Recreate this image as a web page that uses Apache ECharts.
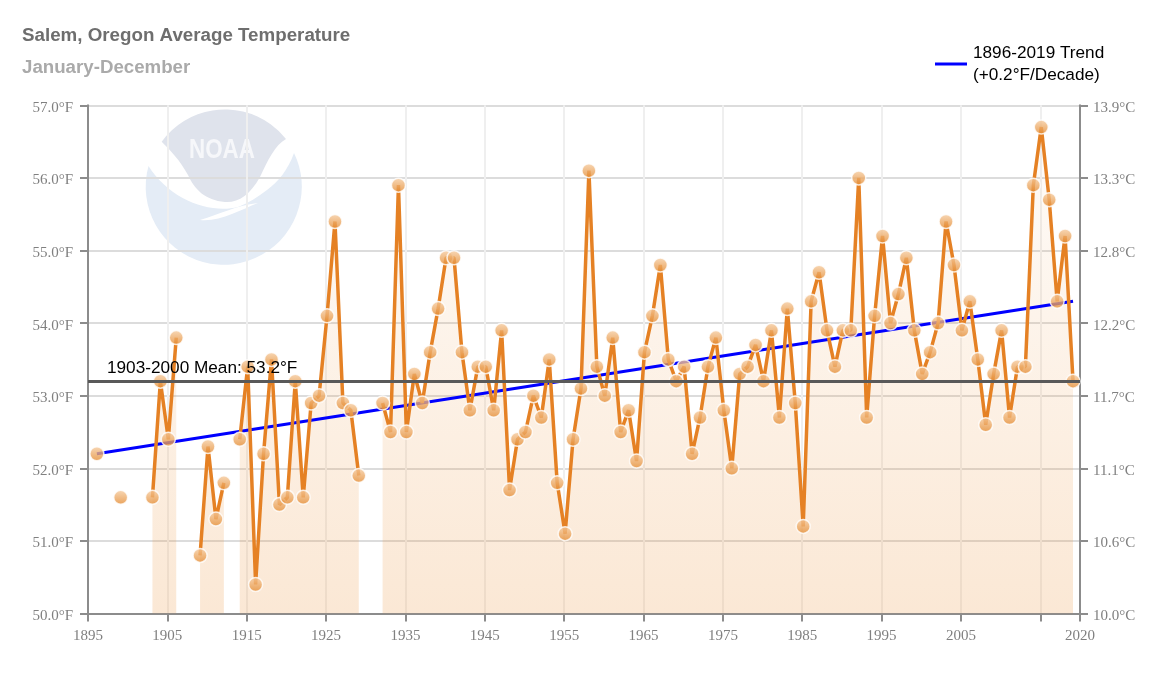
<!DOCTYPE html>
<html>
<head>
<meta charset="utf-8">
<script src="https://cdn.jsdelivr.net/npm/echarts@6/dist/echarts.min.js"></script>
<style>
    html, body { margin: 0; padding: 0; background: #fff; }
    #chart { width: 1163px; height: 678px; }
</style>
</head>
<body>
<div id="chart"></div>
<script>
    // values, null = year with no data
    var startYear = 1896;
    var temps = [
        52.2, null, null, 51.6, null, null, null, 51.6, 53.2, 52.4,   // 1896-1905
        53.8, null, null, 50.8, 52.3, 51.3, 51.8, null, 52.4, 53.4,   // 1906-1915
        50.4, 52.2, 53.5, 51.5, 51.6, 53.2, 51.6, 52.9, 53.0, 54.1,   // 1916-1925
        55.4, 52.9, 52.8, 51.9, null, null, 52.9, 52.5, 55.9, 52.5,   // 1926-1935
        53.3, 52.9, 53.6, 54.2, 54.9, 54.9, 53.6, 52.8, 53.4, 53.4,   // 1936-1945
        52.8, 53.9, 51.7, 52.4, 52.5, 53.0, 52.7, 53.5, 51.8, 51.1,   // 1946-1955
        52.4, 53.1, 56.1, 53.4, 53.0, 53.8, 52.5, 52.8, 52.1, 53.6,   // 1956-1965
        54.1, 54.8, 53.5, 53.2, 53.4, 52.2, 52.7, 53.4, 53.8, 52.8,   // 1966-1975
        52.0, 53.3, 53.4, 53.7, 53.2, 53.9, 52.7, 54.2, 52.9, 51.2,   // 1976-1985
        54.3, 54.7, 53.9, 53.4, 53.9, 53.9, 56.0, 52.7, 54.1, 55.2,   // 1986-1995
        54.0, 54.4, 54.9, 53.9, 53.3, 53.6, 54.0, 55.4, 54.8, 53.9,   // 1996-2005
        54.3, 53.5, 52.6, 53.3, 53.9, 52.7, 53.4, 53.4, 55.9, 56.7,   // 2006-2015
        55.7, 54.3, 55.2, 53.2                                        // 2016-2019
    ];
    var trendYears = [1896, 2019];
    var trendValues = [52.2, 54.3];
    var meanValue = 53.2;
    var titleText = 'Salem, Oregon Average Temperature';
    var subtitleText = 'January-December';
    var trendName = '1896-2019 Trend\n(+0.2°F/Decade)';
    var meanLabel = '1903-2000 Mean: 53.2°F';
    // the source plots each year just after its tick
    var yearShift = 0.12;

    var yearData = temps.map(function (v, i) { return [startYear + i + yearShift, v]; });
    var pointData = yearData.filter(function (d) { return d[1] !== null; });
    var trendData = trendYears.map(function (y, i) { return [y + yearShift, trendValues[i]]; });

    var serifFont = '"Liberation Serif"';
    var axisGrey = { color: '#8c8c8c', width: 2 };

    // graphic has no plain path type, so register the logo shapes
    echarts.graphic.registerShape('noaaLower', echarts.graphic.extendPath(
        'M148.5 166 A78 78 0 1 0 294 153 C288 170 278 182 267 190 C258 197 248 203 238 207 C210 214 170 200 148.5 166 Z', {}));
    echarts.graphic.registerShape('noaaUpper', echarts.graphic.extendPath(
        'M161.7 141.7 A78 78 0 0 1 286 139 C275 145 268 160 260 177 C250 195 238 203 225 202 C205 200 195 190 188 175 C180 160 170 150 161.7 141.7 Z', {}));
    echarts.graphic.registerShape('noaaSliver', echarts.graphic.extendPath(
        'M200 220 C220 214 235 206 258 203 C240 210 220 222 200 220 Z', {}));

    var chart = echarts.init(document.getElementById('chart'), null, { renderer: 'canvas' });

    // NOAA watermark behind the plot
    var logo = [
        { type: 'noaaLower', z: -10, silent: true, style: { fill: '#e4ecf6' } },
        { type: 'noaaUpper', z: -10, silent: true, style: { fill: '#dfe3ec' } },
        { type: 'noaaSliver', z: -9, silent: true, style: { fill: '#ffffff' } },
        { type: 'text', z: -9, silent: true, x: 222, y: 150, scaleX: 0.8, style: { text: 'NOAA', fontFamily: '"Liberation Sans"', fontWeight: 'bold', fontSize: 28, fill: '#f6f7fa', align: 'center', verticalAlign: 'middle' } }
    ];

    var option = {
        animation: false,
        backgroundColor: '#fff',
        title: [
            { text: titleText, left: 22, top: 26, padding: 0, textStyle: { fontFamily: '"Liberation Sans"', fontSize: 18.75, fontWeight: 'bold', color: '#6e6e6e' } },
            { text: subtitleText, left: 22, top: 58, padding: 0, textStyle: { fontFamily: '"Liberation Sans"', fontSize: 18.7, fontWeight: 'bold', color: '#aaaaaa' } }
        ],
        legend: {
            data: [{ name: trendName, icon: 'rect' }],
            left: 935,
            top: 41,
            padding: 0,
            itemWidth: 32,
            itemHeight: 3,
            itemGap: 0,
            textStyle: { fontFamily: '"Liberation Sans"', fontSize: 17.2, color: '#000', lineHeight: 22, padding: [2, 0, 0, 1] }
        },
        grid: { left: 88, right: 83, top: 105.3, bottom: 64.5 },
        graphic: { elements: logo },
        xAxis: {
            type: 'value',
            min: 1895,
            max: 2020,
            interval: 10,
            axisLine: { lineStyle: axisGrey },
            axisTick: { show: true, length: 8, lineStyle: axisGrey },
            axisLabel: {
                fontFamily: serifFont, fontSize: 15, color: '#808080', margin: 15,
                hideOverlap: false,
                formatter: function (v) { return v === 2015 ? '' : String(v); }
            },
            splitLine: { show: true, lineStyle: { color: '#efefef', width: 2 } }
        },
        yAxis: [
            {
                type: 'value', min: 50, max: 57, interval: 1, position: 'left',
                axisLine: { show: true, lineStyle: axisGrey },
                axisTick: { show: true, length: 8, lineStyle: axisGrey },
                axisLabel: {
                    fontFamily: serifFont, fontSize: 15, color: '#808080', margin: 15,
                    verticalAlign: 'top', lineHeight: 5,   // labels sit a little under their tick
                    formatter: function (v) { return v.toFixed(1) + '°F'; }
                },
                splitLine: { show: true, lineStyle: { color: '#dcdcdc', width: 2 } }
            },
            {
                type: 'value', min: 50, max: 57, interval: 1, position: 'right',
                axisLine: { show: true, lineStyle: axisGrey },
                axisTick: { show: true, length: 8, lineStyle: axisGrey },
                axisLabel: {
                    fontFamily: serifFont, fontSize: 15, color: '#808080', margin: 13,
                    verticalAlign: 'top', lineHeight: 5,
                    formatter: function (v) { return ((v - 32) * 5 / 9).toFixed(1) + '°C'; }
                },
                splitLine: { show: false }
            }
        ],
        series: [
            {
                type: 'line',
                name: 'Area',
                data: yearData,
                connectNulls: false,
                symbol: 'none',
                z: 1,
                lineStyle: { width: 0, opacity: 0 },
                areaStyle: {
                    color: new echarts.graphic.LinearGradient(0, 105, 0, 614, [
                        { offset: 0, color: 'rgba(235,145,55,0.03)' },
                        { offset: 1, color: 'rgba(235,145,55,0.30)' }
                    ], true)
                }
            },
            {
                type: 'line',
                name: trendName,
                data: trendData,
                symbol: 'none',
                z: 2,
                itemStyle: { color: '#0000ff' },
                lineStyle: { color: '#0000ff', width: 3 }
            },
            {
                type: 'line',
                name: 'Temperature',
                data: yearData,
                connectNulls: false,
                symbol: 'none',
                z: 3,
                lineStyle: { color: '#e58124', width: 3.5 }
            },
            {
                type: 'scatter',
                name: 'Points',
                data: pointData,
                symbol: 'circle',
                symbolSize: 14,
                z: 4,
                itemStyle: {
                    color: new echarts.graphic.LinearGradient(0, 0, 0, 1, [
                        { offset: 0, color: '#f6cfa6' },
                        { offset: 1, color: '#e48a2f' }
                    ]),
                    borderColor: '#fff',
                    borderWidth: 1.5
                }
            },
            {
                type: 'line',
                name: 'Mean',
                data: [],
                z: 5,
                markLine: {
                    silent: true,
                    symbol: 'none',
                    z: 5,
                    data: [{ yAxis: meanValue }],
                    lineStyle: { color: '#595959', width: 3, type: 'solid' },
                    label: {
                        show: true,
                        position: 'insideStartTop',
                        distance: [19, 4],
                        formatter: meanLabel,
                        fontFamily: '"Liberation Sans"',
                        fontSize: 17.2,
                        color: '#000'
                    }
                }
            }
        ]
    };
    chart.setOption(option);
</script>
</body>
</html>
